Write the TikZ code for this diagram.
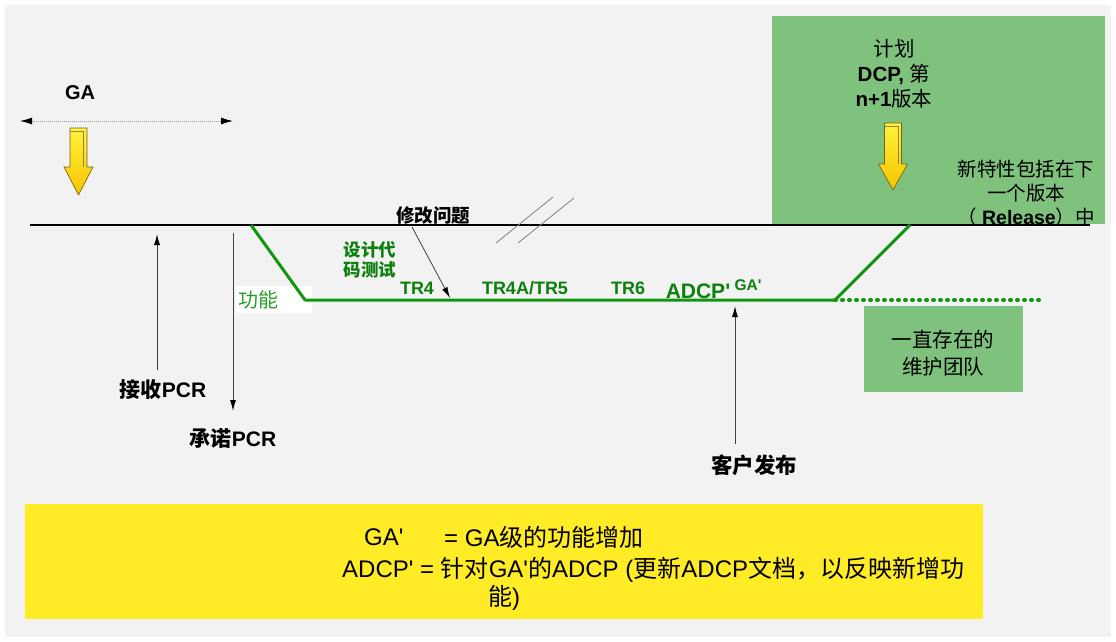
\documentclass[tikz,border=0pt]{standalone}
\usepackage{fontspec}
\setmainfont{Liberation Sans}[Ligatures=TeXOff]
\newfontfamily\cjk{Noto Sans CJK SC}
\usetikzlibrary{arrows.meta}
\definecolor{bg}{RGB}{242,242,242}
\definecolor{boxgreen}{RGB}{126,194,126}
\definecolor{lgreen}{RGB}{16,150,16}
\definecolor{tgreen}{RGB}{12,128,12}
\definecolor{ybox}{RGB}{255,236,38}
\definecolor{yarrowtop}{RGB}{255,242,60}
\definecolor{yarrowbot}{RGB}{246,196,0}
\definecolor{yedge}{RGB}{120,100,20}
\newcommand\zh[1]{{\cjk #1}}
\newcommand\blockarrow[4]{%
  \path[top color=yarrowtop, bottom color=yarrowbot, draw=yedge, line width=0.7pt, line join=round]
    ({#1-8.5},#2) -- ({#1+8.5},#2) -- ({#1+8.5},#3) -- ({#1+14.5},#3) -- (#1,#4)
    -- ({#1-14.5},#3) -- ({#1-8.5},#3) -- cycle;
  \draw[yedge!80, line width=0.5pt] ({#1-8.5},{#2+3.5}) -- ({#1+5},{#2+3.5}) -- ({#1+5},#3);
}
\begin{document}
\begin{tikzpicture}[x=1pt,y=-1pt,
  lbl/.style={inner sep=0pt, font=\bfseries\fontsize{18}{20}\selectfont},
  glbl/.style={inner sep=0pt, text=tgreen, font=\bfseries\fontsize{18}{20}\selectfont},
  conn/.style={draw=black!75, line width=1pt, -{Latex[length=11pt,width=6pt,color=black]}},
  panel/.style={inner sep=0pt, anchor=north west},
  ytext/.style={inner sep=0pt, anchor=west, font=\fontsize{24}{28}\selectfont}
]
\useasboundingbox (0,0) rectangle (1116,642);
\fill[white] (0,0) rectangle (1116,642);
\fill[bg] (5,5) rectangle (1111,637);

% panels
\node[panel, fill=boxgreen, minimum width=333pt, minimum height=208pt] (planbox) at (772,16) {};
\node[panel, fill=boxgreen, minimum width=159pt, minimum height=86pt] (teambox) at (864,306) {};
\node[panel, fill=ybox, minimum width=958pt, minimum height=115pt] (ybox) at (25,504) {};
\node[panel, fill=white, minimum width=76pt, minimum height=27pt] (fnbox) at (236,286) {};

% GA range
\node[lbl, font=\bfseries\fontsize{20}{22}\selectfont] (ga) at (80,93) {GA};
\coordinate (gaL) at (20,121);
\coordinate (gaR) at (233,121);
\draw[gray!80, line width=1pt, dash pattern=on 1pt off 1pt,
  {Latex[length=12pt,width=7pt,color=black]}-{Latex[length=12pt,width=7pt,color=black]}] (gaL) -- (gaR);
\blockarrow{78.5}{128}{167}{195}

% main timeline
\coordinate (mL) at (30,225);
\coordinate (mR) at (1090,225);
\draw[line width=1.2pt] (mL) -- (mR);
\draw[gray, line width=0.8pt] (496,243) -- (553,197);
\draw[gray, line width=0.8pt] (518,243) -- (574,198);

% green path
\coordinate (g1) at (251,225);
\coordinate (g2) at (305,300);
\coordinate (g3) at (835,300);
\coordinate (g4) at (910,225);
\coordinate (g5) at (1043,300);
\draw[lgreen, line width=3pt, line join=round] (g1) -- (g2) -- (g3) -- (g4);
\draw[lgreen, line width=4pt, line cap=round, dash pattern=on 1pt off 6pt] (g3) -- (g5);

\node[inner sep=0pt, anchor=west, text=lgreen!90!white, font=\fontsize{20}{22}\selectfont] (fn) at (238,300) {\zh{功能}};

% PCR arrows
\node[lbl, font=\bfseries\fontsize{21}{23}\selectfont] (acc) at (163,390) {\zh{接收}PCR};
\coordinate (accBot) at (157,370);
\coordinate (accTop) at (157,234);
\draw[conn] (accBot) -- (accTop);
\node[lbl, font=\bfseries\fontsize{21}{23}\selectfont] (cmt) at (233,439) {\zh{承诺}PCR};
\coordinate (cmTop) at (233,233);
\coordinate (cmBot) at (233,411);
\draw[conn] (cmTop) -- (cmBot);

% fix problem
\node[lbl, font=\bfseries\fontsize{18.5}{20}\selectfont] (fix) at (433,215) {\zh{修改问题}};
\coordinate (fixS) at (412,227);
\coordinate (fixE) at (450,298);
\draw[conn, line width=0.8pt] (fixS) -- (fixE);

% green labels
\node[glbl, align=center, font=\bfseries\fontsize{17.5}{20}\selectfont] (des) at (370,260) {\zh{设计代}\\\zh{码测试}};
\node[glbl] (tr4) at (417,288) {TR4};
\node[glbl] (tr4a) at (525,288) {TR4A/TR5};
\node[glbl] (tr6) at (628,288) {TR6};
\node[glbl, font=\bfseries\fontsize{21}{22}\selectfont] (adcp) at (698,291) {ADCP'};
\node[glbl, font=\bfseries\fontsize{15.5}{17}\selectfont] (gap) at (748,285) {GA'};

% customer release
\node[lbl, font=\bfseries\fontsize{21.5}{23}\selectfont] (rel) at (754,465) {\zh{客户发布}};
\coordinate (relS) at (735,444);
\coordinate (relE) at (735,306);
\draw[conn] (relS) -- (relE);

% plan panel
\node[inner sep=0pt, align=center, font=\fontsize{20.5}{25}\selectfont] (plan) at (894,74)
  {\zh{计划}\\\textbf{DCP,} \zh{第}\\\textbf{n+1}\zh{版本}};
\blockarrow{893}{123}{164}{190}
\node[inner sep=0pt, align=center, font=\fontsize{19.5}{24}\selectfont] (nf) at (1026,193)
  {\zh{新特性包括在下}\\\zh{一个版本}\\\zh{（} \textbf{Release}\zh{）中}};

% team panel
\node[inner sep=0pt, align=center, font=\fontsize{20.5}{27}\selectfont] (team) at (943,353)
  {\zh{一直存在的}\\\zh{维护团队}};

% legend
\node[ytext] (l1a) at (364,537) {GA'};
\node[ytext] (l1b) at (444,537) {= GA\zh{级的功能增加}};
\node[ytext] (l2) at (342,570) {ADCP' = \zh{针对}GA'\zh{的}ADCP (\zh{更新}ADCP\zh{文档，以反映新增功}};
\node[ytext] (l3) at (488,598) {\zh{能})};
\end{tikzpicture}
\end{document}
